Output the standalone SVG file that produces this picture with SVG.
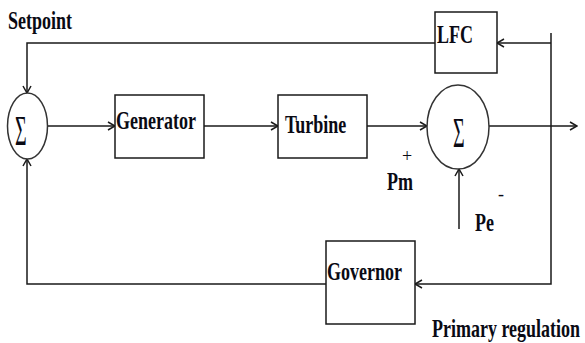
<svg xmlns="http://www.w3.org/2000/svg" width="585" height="343" viewBox="0 0 585 343">
<style>
.box{fill:#fff;stroke:#1a1a1a;stroke-width:1.5}
.sum{fill:#fff;stroke:#333;stroke-width:1.5}
.ln{fill:none;stroke:#1a1a1a;stroke-width:1.5}
.t{font-family:"Liberation Serif","Times New Roman",serif;font-weight:bold;font-size:18px;fill:#0a0a14}
.s{font-family:"Liberation Serif","Times New Roman",serif;font-size:20px;fill:#0a0a14}
</style>
<defs>
<marker id="arr" viewBox="0 0 10 10" refX="9" refY="5" markerWidth="10" markerHeight="10" markerUnits="userSpaceOnUse" orient="auto">
<polyline points="2,1 9,5 2,9" fill="none" stroke="#1a1a1a" stroke-width="1.5"/>
</marker>
</defs>
<rect width="585" height="343" fill="#fff"/>
<g id="connectors">
<polyline class="ln" points="435,43 27,43 27,93" marker-end="url(#arr)"/>
<polyline class="ln" points="326,284 27,284 27,159" marker-end="url(#arr)"/>
<line class="ln" x1="47" y1="126" x2="115" y2="126" marker-end="url(#arr)"/>
<line class="ln" x1="204" y1="126" x2="278" y2="126" marker-end="url(#arr)"/>
<line class="ln" x1="367" y1="126" x2="427" y2="126" marker-end="url(#arr)"/>
<line class="ln" x1="489" y1="126" x2="577" y2="126" marker-end="url(#arr)"/>
<line class="ln" x1="551" y1="43" x2="497" y2="43" marker-end="url(#arr)"/>
<polyline class="ln" points="551,33 551,284 415,284" marker-end="url(#arr)"/>
<line class="ln" x1="459" y1="229" x2="459" y2="169" marker-end="url(#arr)"/>
</g>
<g id="sum1">
<ellipse class="sum" cx="27.5" cy="126" rx="20" ry="33"/>
<text class="s" transform="translate(15,145) scale(1,2.1)">Σ</text>
</g>
<g id="generator">
<rect class="box" x="115" y="95" width="89" height="63"/>
<text class="t" transform="translate(116,129) scale(1,1.4)">Generator</text>
</g>
<g id="turbine">
<rect class="box" x="278" y="95" width="89" height="63"/>
<text class="t" transform="translate(285,133) scale(1,1.4)">Turbine</text>
</g>
<g id="sum2">
<ellipse class="sum" cx="458" cy="127" rx="31" ry="42"/>
<text class="s" transform="translate(453,147) scale(1,2.1)">Σ</text>
</g>
<g id="lfc">
<rect class="box" x="435" y="12" width="62" height="61"/>
<text class="t" transform="translate(437,43) scale(1,1.4)">LFC</text>
</g>
<g id="governor">
<rect class="box" x="326" y="241" width="89" height="83"/>
<text class="t" transform="translate(327,280) scale(1,1.4)">Governor</text>
</g>
<g id="labels">
<text class="t" transform="translate(387,190) scale(1,1.4)">Pm</text>
<text class="t" style="font-weight:normal" transform="translate(402,162)">+</text>
<text class="t" transform="translate(8,29) scale(1,1.4)">Setpoint</text>
<text class="t" transform="translate(475,231) scale(1,1.4)">Pe</text>
<text class="t" style="font-weight:normal" transform="translate(498,200)">-</text>
<text class="t" transform="translate(432,337) scale(1,1.4)">Primary regulation</text>
</g>
</svg>
